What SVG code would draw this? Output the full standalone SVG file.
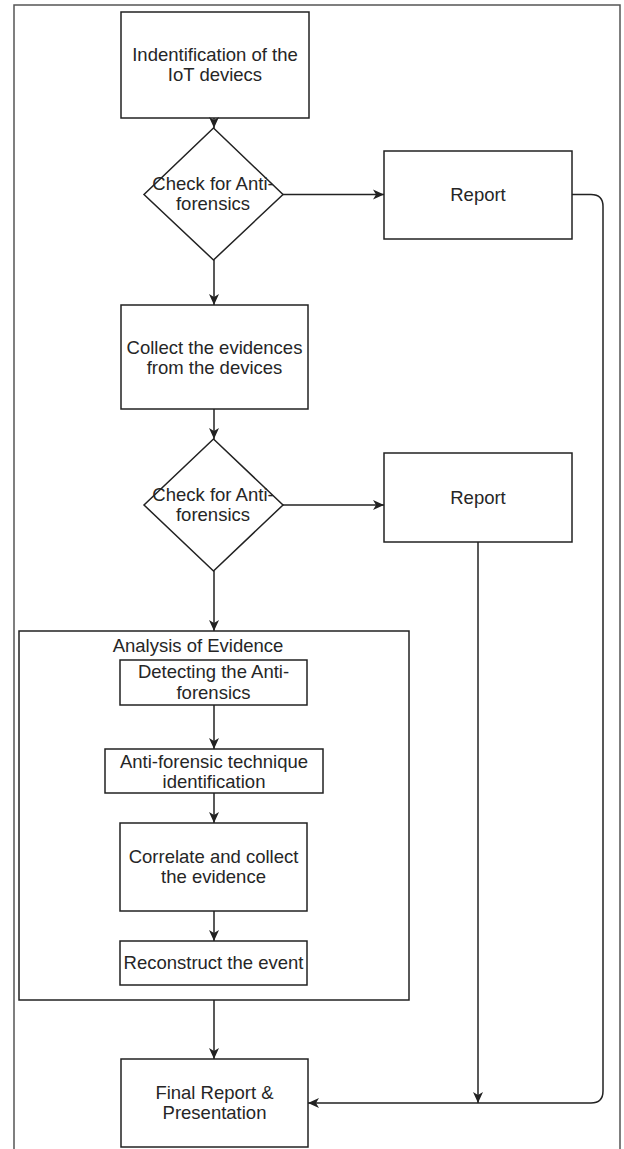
<svg xmlns="http://www.w3.org/2000/svg" width="624" height="1149" viewBox="0 0 624 1149">
<style>
.box{fill:#fff;stroke:#222;stroke-width:1.5}
.frame{fill:none;stroke:#555;stroke-width:1.5}
.t{font-family:"Liberation Sans",Arial,sans-serif;font-size:18.5px;fill:#262626;text-anchor:middle}
.c{fill:none;stroke:#222;stroke-width:1.5}
</style>
<defs>
<marker id="ah" markerUnits="userSpaceOnUse" markerWidth="12" markerHeight="11" refX="11" refY="5.5" orient="auto">
<path d="M0,0.5 L11,5.5 L0,10.5 L3,5.5 z" fill="#222"/>
</marker>
</defs>
<rect fill="#fff" x="0" y="0" width="624" height="1149"/>
<path class="frame" d="M14,1160 V5 H620 V1160"/>

<g id="n-identify">
<rect class="box" x="121" y="12" width="188" height="106"/>
<text class="t" x="215" y="61">Indentification of the</text>
<text class="t" x="215" y="81">IoT deviecs</text>
</g>

<g id="n-check1">
<polygon class="box" points="213.5,128 283,194.5 213.5,260 144,194.5"/>
<text class="t" x="213" y="190">Check for Anti-</text>
<text class="t" x="213" y="210">forensics</text>
</g>

<g id="n-report1">
<rect class="box" x="384" y="151" width="188" height="88"/>
<text class="t" x="478" y="201">Report</text>
</g>

<g id="n-collect">
<rect class="box" x="121" y="305" width="187" height="104"/>
<text class="t" x="214.5" y="354">Collect the evidences</text>
<text class="t" x="214.5" y="374">from the devices</text>
</g>

<g id="n-check2">
<polygon class="box" points="213.5,439 283,505 213.5,571 144,505"/>
<text class="t" x="213" y="501">Check for Anti-</text>
<text class="t" x="213" y="521">forensics</text>
</g>

<g id="n-report2">
<rect class="box" x="384" y="453" width="188" height="89"/>
<text class="t" x="478" y="504">Report</text>
</g>

<g id="n-analysis">
<rect class="box" x="19" y="631" width="390" height="369"/>
<text class="t" x="198" y="652">Analysis of Evidence</text>
</g>

<g id="n-detect">
<rect class="box" x="120" y="660" width="187" height="45"/>
<text class="t" x="213.5" y="678">Detecting the Anti-</text>
<text class="t" x="213.5" y="699">forensics</text>
</g>

<g id="n-technique">
<rect class="box" x="105" y="749" width="218" height="44"/>
<text class="t" x="214" y="768">Anti-forensic technique</text>
<text class="t" x="214" y="788">identification</text>
</g>

<g id="n-correlate">
<rect class="box" x="120" y="823" width="187" height="88"/>
<text class="t" x="213.5" y="863">Correlate and collect</text>
<text class="t" x="213.5" y="883">the evidence</text>
</g>

<g id="n-reconstruct">
<rect class="box" x="120" y="941" width="187" height="44"/>
<text class="t" x="213.5" y="969">Reconstruct the event</text>
</g>

<g id="n-final">
<rect class="box" x="121" y="1059" width="187" height="88"/>
<text class="t" x="214.5" y="1099">Final Report &amp;</text>
<text class="t" x="214.5" y="1119">Presentation</text>
</g>

<g id="connectors">
<path class="c" d="M214,118 V128" marker-end="url(#ah)"/>
<path class="c" d="M283,194.5 H384" marker-end="url(#ah)"/>
<path class="c" d="M214,260 V305" marker-end="url(#ah)"/>
<path class="c" d="M214,409 V439" marker-end="url(#ah)"/>
<path class="c" d="M283,505 H384" marker-end="url(#ah)"/>
<path class="c" d="M214,571 V631" marker-end="url(#ah)"/>
<path class="c" d="M214,705 V749" marker-end="url(#ah)"/>
<path class="c" d="M214,793 V823" marker-end="url(#ah)"/>
<path class="c" d="M214,911 V941" marker-end="url(#ah)"/>
<path class="c" d="M214,1000 V1059" marker-end="url(#ah)"/>
<path class="c" d="M478,542 V1103" marker-end="url(#ah)"/>
<path class="c" d="M572,194.5 H591 Q603,194.5 603,206.5 V1091 Q603,1103 591,1103 H308" marker-end="url(#ah)"/>
</g>
</svg>
